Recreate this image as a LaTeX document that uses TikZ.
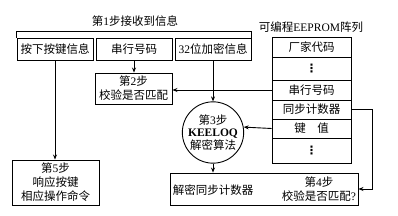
\documentclass[tikz,border=0pt]{standalone}
\usepackage{fontspec}
\setmainfont{Liberation Serif}
\newfontfamily\cjk{Noto Sans CJK SC}
\newfontfamily\dv{DejaVu Sans}
\newcommand{\zh}[1]{{\cjk #1}}
\newcommand{\vd}{{\dv\bfseries ⋮}}
\usetikzlibrary{arrows.meta}
\begin{document}
\begin{tikzpicture}[x=1pt,y=-1pt,
  font=\fontsize{11.5}{13}\selectfont,
  line width=0.9pt,
  box/.style={draw, inner sep=0pt, align=center},
  row/.style={draw, inner sep=0pt, minimum width=79pt, align=center},
  arr/.style={-{Stealth[length=5pt,width=4pt]}},
  txt/.style={inner sep=0pt, align=center}]
\useasboundingbox (0,0) rectangle (398,216);
% titles
\node[txt] (t1) at (135,21) {\zh{第}1\zh{步接收到信息}};
\node[txt] (te) at (311,27) {\zh{可编程}EEPROM\zh{阵列}};
% step 1 boxes
\node[box, minimum width=76pt, minimum height=22pt] (k1) at (55,49) {\zh{按下按键信息}};
\node[box, minimum width=76pt, minimum height=22pt] (k2) at (134,49) {\zh{串行号码}};
\node[box, minimum width=76pt, minimum height=22pt] (k3) at (213,49) {32\zh{位加密信息}};
\draw (k1.north west) -- ++(0,-6) -| (k3.north east);
% step 2
\node[box, minimum width=77pt, minimum height=31pt, font=\fontsize{11.5}{14}\selectfont] (s2) at (133.5,88.5) {\zh{第}2\zh{步}\\\zh{校验是否匹配}};
% step 3
\node[draw, circle, inner sep=0pt, minimum size=58pt, align=center, font=\fontsize{11.5}{12.5}\selectfont] (c3) at (213,132.5) {\zh{第}3\zh{步}\\\textbf{KEELOQ}\\\zh{解密算法}};
% step 5
\node[box, minimum width=87pt, minimum height=45pt, font=\fontsize{11.5}{14}\selectfont] (s5) at (55.5,182.5) {\zh{第}5\zh{步}\\\zh{响应按键}\\\zh{相应操作命令}};
% bottom box
\node[box, minimum width=188pt, minimum height=32pt] (b4) at (264,189) {};
\node[txt] (d1) at (213,190) {\zh{解密同步计数器}};
\node[txt, font=\fontsize{11.5}{14}\selectfont] (d4) at (319,189.5) {\zh{第}4\zh{步}\\\zh{校验是否匹配}?};
% EEPROM rows
\node[row, minimum height=20pt] (r1) at (311.5,47) {\zh{厂家代码}};
\node[row, minimum height=23pt] (r2) at (311.5,68.5) {\vd};
\node[row, minimum height=20pt] (r3) at (311.5,90) {\zh{串行号码}};
\node[row, minimum height=19pt] (r4) at (311.5,109.5) {\zh{同步计数器}};
\node[row, minimum height=19pt] (r5) at (311.5,128.5) {\zh{键}\hspace{1em}\zh{值}};
\node[row, minimum height=25pt] (r6) at (311.5,150.5) {\vd};
% connectors
\draw[arr] (k2.south) -- (s2.north -| k2.south);
\draw[arr] (k3.south) -- (c3.north);
\draw[arr] (r3.west) -- (r3.west -| s2.east);
\draw[arr] (r5.west) -- (c3.10);
\draw[arr] (c3.south) -- (c3.south |- b4.north);
\draw[arr] (k1.south) -- (k1.south |- s5.north);
\coordinate (cr) at ([xshift=21pt]r4.east);
\draw[arr] (r4.east) -- (cr) |- (b4.east);
\end{tikzpicture}
\end{document}
